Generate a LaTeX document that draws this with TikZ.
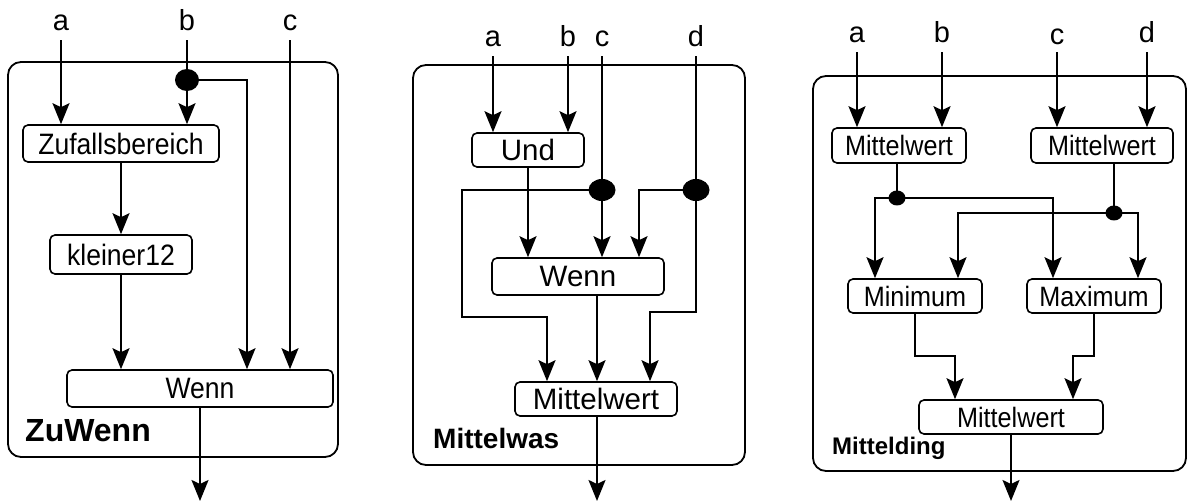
\documentclass[tikz,border=0pt]{standalone}
\usepackage{fontspec}
\setmainfont{Liberation Sans}
\newfontfamily\narrowsans[FakeStretch=0.9]{Liberation Sans}
\usetikzlibrary{arrows.meta,shapes.geometric}

\tikzset{
  x=1pt, y=-1pt,
  wire/.style={line width=1.9pt},
  arr/.style={wire,-{Stealth[length=21pt,width=17pt,inset=4pt]}},
  frame/.style={draw,line width=1.8pt,rounded corners=13pt},
  block/.style={draw,line width=1.6pt,rounded corners=5pt,inner sep=0pt},
  blockA/.style={block,font=\narrowsans\fontsize{29.5}{29.5}\selectfont},
  blockB/.style={block,font=\fontsize{29.5}{29.5}\selectfont},
  blockC/.style={block,font=\narrowsans\fontsize{28}{28}\selectfont},
  lab/.style={anchor=base,inner sep=0pt,outer ysep=9pt,font=\fontsize{29}{29}\selectfont},
  junction/.style={ellipse,fill=black,draw=none,inner sep=0pt},
  title/.style={anchor=base west,inner sep=0pt,font=\bfseries}
}

\begin{document}
\begin{tikzpicture}
\useasboundingbox (0,0) rectangle (1188,502);

% ---------------- ZuWenn ----------------
\draw[frame] (8,62) rectangle (338,457);
\node[lab] (a1) at (61,31) {a};
\node[lab] (b1) at (187,31) {b};
\node[lab] (c1) at (290,31) {c};
\node[blockA,minimum width=196pt,minimum height=37pt] (zb) at (121,143.5) {Zufallsbereich};
\node[blockA,minimum width=142pt,minimum height=39pt] (kl) at (121,254.5) {kleiner12};
\node[blockA,minimum width=266pt,minimum height=37pt] (w1) at (200,388.5) {Wenn};
\node[junction,minimum width=24pt,minimum height=22pt] (j1) at (187,80) {};
\node[title,font=\fontsize{32}{32}\selectfont\bfseries] (t1) at (25,441) {ZuWenn};
\coordinate (o1) at (200,501);

\draw[arr] (a1.south) -- (a1.south |- zb.north);
\draw[arr] (b1.south) -- (b1.south |- zb.north);
\draw[arr] (c1.south) -- (c1.south |- w1.north);
\draw[arr] (j1.center) -| ([xshift=47pt]w1.north);
\draw[arr] (zb.south) -- (kl.north);
\draw[arr] (kl.south) -- (kl.south |- w1.north);
\draw[arr] (w1.south) -- (o1);

% ---------------- Mittelwas ----------------
\draw[frame] (413,65) rectangle (745,465);
\node[lab] (a2) at (493,47) {a};
\node[lab] (b2) at (568,47) {b};
\node[lab] (c2) at (602,47) {c};
\node[lab] (d2) at (696,47) {d};
\node[blockB,minimum width=112pt,minimum height=34pt] (und) at (528,150) {Und};
\node[blockB,minimum width=172pt,minimum height=37pt] (w2) at (578,276.5) {Wenn};
\node[blockB,minimum width=162pt,minimum height=34pt] (mw) at (596,399) {Mittelwert};
\node[junction,minimum width=27pt,minimum height=22pt] (jc) at (602,190) {};
\node[junction,minimum width=27pt,minimum height=22pt] (jd) at (696,190) {};
\node[title,font=\fontsize{28}{28}\selectfont\bfseries] (t2) at (433,448) {Mittelwas};
\coordinate (o2) at (597,501);

\draw[arr] (a2.south) -- (a2.south |- und.north);
\draw[arr] (b2.south) -- (b2.south |- und.north);
\draw[arr] (c2.south) -- (c2.south |- w2.north);
\draw[arr] (d2.south) -- (jd.center) -- (696,312) -| ([xshift=54pt]mw.north);
\draw[arr] (jd.center) -| ([xshift=61pt]w2.north);
\draw[arr] (jc.center) -- (462,190) -- (462,317) -| ([xshift=-49pt]mw.north);
\draw[arr] (und.south) -- (und.south |- w2.north);
\draw[arr] ([xshift=19pt]w2.south) -- ([xshift=1pt]mw.north);
\draw[arr] ([xshift=1pt]mw.south) -- (o2);

% ---------------- Mittelding ----------------
\draw[frame] (813,76) rectangle (1186,471);
\node[lab] (a3) at (857,43) {a};
\node[lab] (b3) at (942,43) {b};
\node[lab,outer ysep=7pt] (c3) at (1057,45) {c};
\node[lab] (d3) at (1147,43) {d};
\node[blockC,minimum width=134pt,minimum height=35pt] (ma) at (899,145.5) {Mittelwert};
\node[blockC,minimum width=142pt,minimum height=35pt] (mb) at (1102,145.5) {Mittelwert};
\node[blockC,minimum width=134pt,minimum height=34pt] (mn) at (915,296) {Minimum};
\node[blockC,minimum width=134pt,minimum height=34pt] (mx) at (1094,296) {Maximum};
\node[blockC,minimum width=184pt,minimum height=34pt] (mc) at (1011,417) {Mittelwert};
\node[junction,minimum width=17pt,minimum height=15pt] (e1) at (897,198) {};
\node[junction,minimum width=17pt,minimum height=15pt] (e2) at (1114,213) {};
\node[title,font=\fontsize{24}{24}\selectfont\bfseries] (t3) at (832,454) {Mittelding};
\coordinate (o3) at (1011,501);

\draw[arr] (a3.south) -- (a3.south |- ma.north);
\draw[arr] (b3.south) -- (b3.south |- ma.north);
\draw[arr] (c3.south) -- (c3.south |- mb.north);
\draw[arr] (d3.south) -- (d3.south |- mb.north);
\draw[wire] (e1 |- ma.south) -- (e1.center);
\draw[arr] (e1.center) -| ([xshift=-40pt]mn.north);
\draw[arr] (e1.center) -| ([xshift=-41pt]mx.north);
\draw[wire] (e2 |- mb.south) -- (e2.center);
\draw[arr] (e2.center) -| ([xshift=43pt]mn.north);
\draw[arr] (e2.center) -| ([xshift=44pt]mx.north);
\draw[arr] (mn.south) -- (915,356) -| ([xshift=-56pt]mc.north);
\draw[arr] (mx.south) -- (1094,356) -| ([xshift=62pt]mc.north);
\draw[arr] (mc.south) -- (o3);
\end{tikzpicture}
\end{document}
